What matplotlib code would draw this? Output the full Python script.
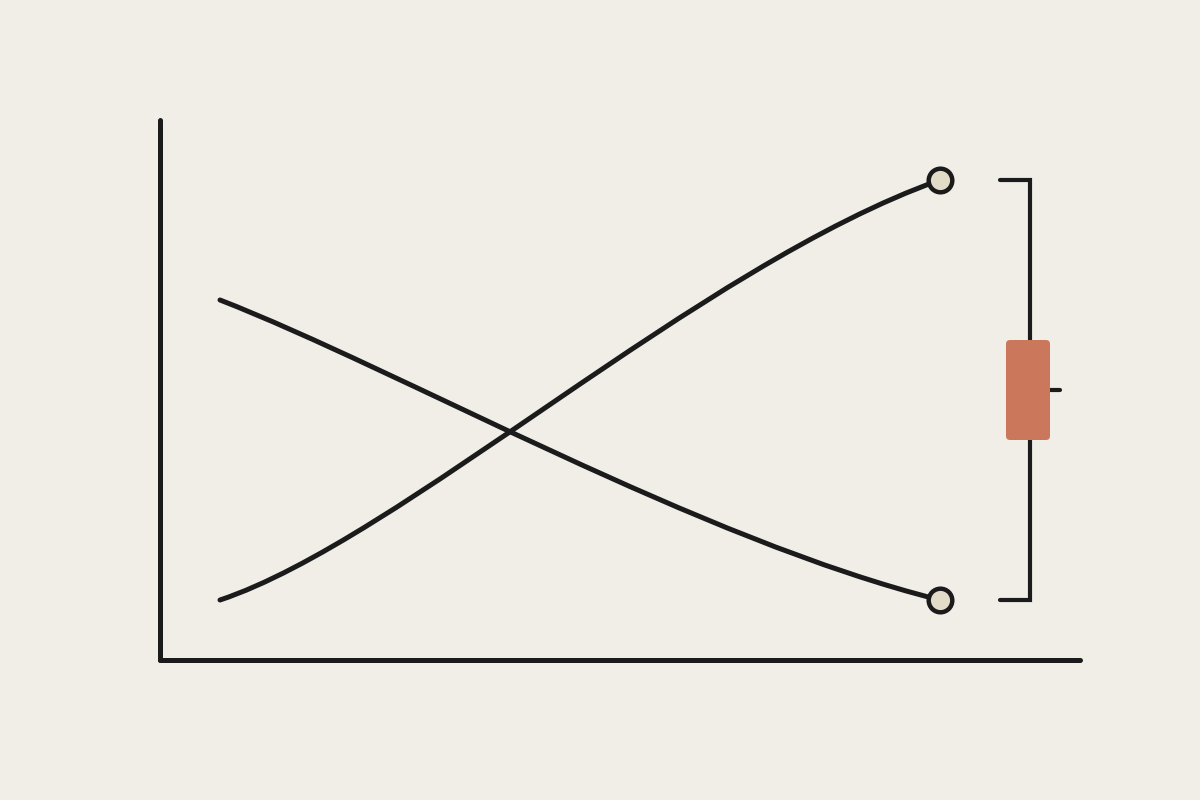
import matplotlib
matplotlib.use("Agg")
import matplotlib.pyplot as plt
from matplotlib.patches import FancyBboxPatch, PathPatch
from matplotlib.path import Path

# Data (chart units: x to the right of the y-axis, y above the x-axis)
# Each series is a smooth cubic curve given by its start, two control points and end.
rise_x = [60, 240, 540, 780]
rise_y = [60, 120, 395, 480]
fall_x = [60, 240, 540, 780]
fall_y = [360, 290, 120, 60]
range_low = 60
range_high = 480
box_low = 220
box_high = 320
box_mid = 270
x_axis_len = 920
y_axis_len = 540

BG = "#F0EEE7"
INK = "#1B1B1B"
ACCENT = "#CB775B"
DOT = "#E2DBC8"

fig = plt.figure(figsize=(12, 8), dpi=100, facecolor=BG)
ax = fig.add_axes([0, 0, 1, 1])
ax.set_facecolor(BG)
ax.set_xlim(-160, 1040)
ax.set_ylim(-140, 660)
ax.axis("off")

lw = 3.6
# axes
ax.plot([0, 0], [0, y_axis_len], color=INK, lw=lw, solid_capstyle="round")
ax.plot([0, x_axis_len], [0, 0], color=INK, lw=lw, solid_capstyle="round")

# curves
codes = [Path.MOVETO, Path.CURVE4, Path.CURVE4, Path.CURVE4]
for xs, ys in ((rise_x, rise_y), (fall_x, fall_y)):
    p = Path(list(zip(xs, ys)), codes)
    ax.add_patch(PathPatch(p, facecolor="none", edgecolor=INK, lw=lw,
                           capstyle="round", joinstyle="round", zorder=3))

# end markers
ax.plot([rise_x[-1]], [rise_y[-1]], "o", ms=17, mfc=DOT, mec=INK, mew=3.2, zorder=5)
ax.plot([fall_x[-1]], [fall_y[-1]], "o", ms=17, mfc=DOT, mec=INK, mew=3.2, zorder=5)

# bracket
bx = 870
blw = 3.0
ax.plot([bx - 30, bx, bx, bx - 30], [range_high, range_high, range_low, range_low],
        color=INK, lw=blw, solid_capstyle="round", solid_joinstyle="miter")
ax.plot([bx + 18, bx + 30], [box_mid, box_mid], color=INK, lw=blw, solid_capstyle="round")
box = FancyBboxPatch((bx - 24 + 4, box_low + 4), 44 - 8, (box_high - box_low) - 8,
                     boxstyle="round,pad=4", facecolor=ACCENT, edgecolor="none", zorder=4)
ax.add_patch(box)

fig.savefig("out.png", dpi=100, facecolor=BG)
